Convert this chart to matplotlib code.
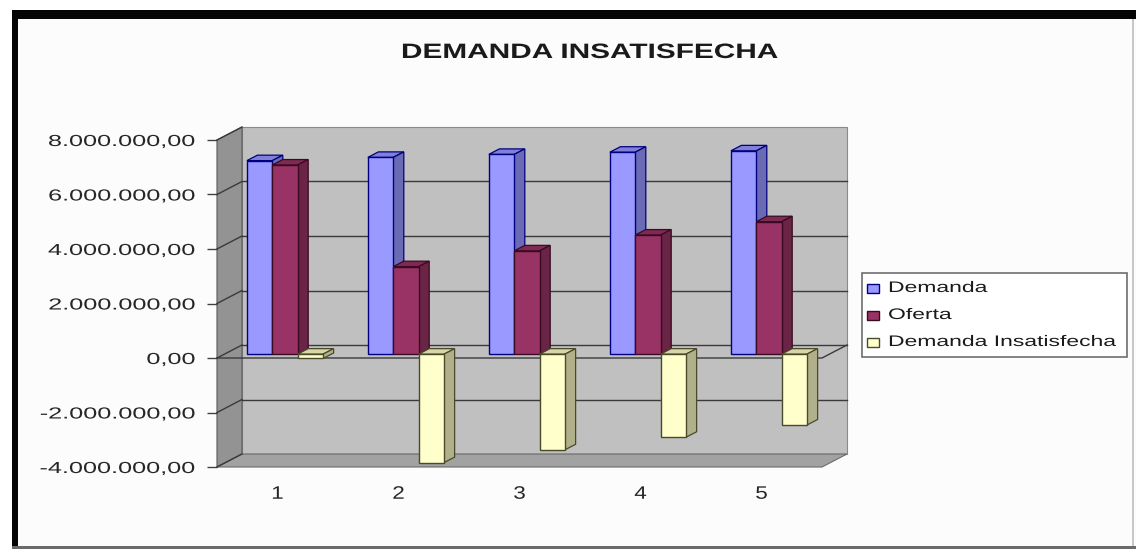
import matplotlib
matplotlib.use("Agg")
import matplotlib.pyplot as plt
from matplotlib.patches import Polygon, Rectangle
from matplotlib.lines import Line2D
from matplotlib.patheffects import AbstractPathEffect
from matplotlib.transforms import Affine2D

plt.rcParams["font.family"] = ["Liberation Sans", "DejaVu Sans"]

# ---- data -------------------------------------------------------------
categories = ["1", "2", "3", "4", "5"]
demanda = [7_100_000, 7_220_000, 7_330_000, 7_410_000, 7_460_000]
oferta = [6_940_000, 3_210_000, 3_790_000, 4_370_000, 4_860_000]
insatisfecha = [-160_000, -3_980_000, -3_510_000, -3_050_000, -2_600_000]
series_names = ["Demanda", "Oferta", "Demanda Insatisfecha"]
y_ticks = [-4_000_000, -2_000_000, 0, 2_000_000, 4_000_000, 6_000_000, 8_000_000]
y_tick_labels = ["-4.000.000,00", "-2.000.000,00", "0,00", "2.000.000,00",
                 "4.000.000,00", "6.000.000,00", "8.000.000,00"]
title = "DEMANDA INSATISFECHA"

# ---- styling ------------------------------------------------------------
face_colors = ["#9999FF", "#993366", "#FFFFCC"]
side_colors = ["#6A6AB5", "#6A2446", "#B0B08A"]
top_colors = ["#8080D8", "#7E2A52", "#D6D6A6"]
edge_colors = ["#000080", "#3A0A22", "#4A4A2A"]


class HStretch(AbstractPathEffect):
    """Widen glyph outlines horizontally around a chosen anchor."""

    def __init__(self, sx, anchor="left"):
        super().__init__()
        self.sx = sx
        self.anchor = anchor

    def draw_path(self, renderer, gc, tpath, affine, rgbFace=None):
        ext = tpath.get_extents()
        if self.anchor == "right":
            x0 = ext.x1
        elif self.anchor == "center":
            x0 = 0.5 * (ext.x0 + ext.x1)
        else:
            x0 = 0.0
        extra = Affine2D().translate(-x0, 0).scale(self.sx, 1).translate(x0, 0)
        renderer.draw_path(gc, tpath, extra + affine, rgbFace)


W, H, DPI = 1136, 552, 100
fig = plt.figure(figsize=(W / DPI, H / DPI), dpi=DPI)
fig.patch.set_facecolor("white")
px = Affine2D().scale(1 / W, -1 / H).translate(0, 1) + fig.transFigure

# outer frame (kept beneath the axes)
frame = [
    Rectangle((18, 19), W - 18, 527, fc="#FCFCFC", ec="none"),
    Rectangle((12, 10), W - 12, 9, fc="#050505", ec="none"),
    Rectangle((12, 10), 6, 539, fc="#050505", ec="none"),
    Rectangle((12, 546), W - 12, 3, fc="#6A6A6A", ec="none"),
    Rectangle((1132, 19), 2, 527, fc="#C8C8C8", ec="none"),
]
for p in frame:
    p.set_transform(px)
    p.set_zorder(-5)
    fig.patches.append(p)

# title
t = fig.text(590 / W, 1 - 52.5 / H, title, ha="center", va="center",
             fontsize=15, fontweight="bold", color="#1A1A1A")
t.set_path_effects([HStretch(1.43, "center")])

# ---- plotting area ----------------------------------------------------
PX_CAT = 121.0          # pixels per category
PX_M = 27.25            # pixels per million
X0_PX, Y0_PX = 217.0, 358.0
xmin, xmax = 0.5, 5.75
ymin, ymax = -4_000_000, 8_600_000
left = X0_PX + (xmin - 0.5) * PX_CAT
right = X0_PX + (xmax - 0.5) * PX_CAT
top = Y0_PX - ymax / 1e6 * PX_M
bottom = Y0_PX - ymin / 1e6 * PX_M
ax = fig.add_axes([left / W, 1 - bottom / H, (right - left) / W, (bottom - top) / H])
ax.set_zorder(1)
ax.set_xlim(xmin, xmax)
ax.set_ylim(ymin, ymax)
ax.patch.set_visible(False)
for s in ax.spines.values():
    s.set_visible(False)

# depth offset of the 3-D box, in data units
DX = 25 / PX_CAT
DY = 13 / PX_M * 1e6
xa, xb = 0.5, 5.5
ylo, yhi = y_ticks[0], y_ticks[-1]

# back wall, side wall, floor
ax.add_patch(Polygon([(xa + DX, ylo + DY), (xb + DX, ylo + DY), (xb + DX, yhi + DY),
                      (xa + DX, yhi + DY)], closed=True, fc="#C0C0C0", ec="#8A8A8A",
                     lw=0.8, zorder=1, clip_on=False))
ax.add_patch(Polygon([(xa, ylo), (xa, yhi), (xa + DX, yhi + DY), (xa + DX, ylo + DY)],
                     closed=True, fc="#939393", ec="#5A5A5A", lw=0.8, zorder=1.2,
                     clip_on=False))
ax.add_patch(Polygon([(xa, ylo), (xb, ylo), (xb + DX, ylo + DY), (xa + DX, ylo + DY)],
                     closed=True, fc="#A2A2A2", ec="#6A6A6A", lw=0.8, zorder=1.3,
                     clip_on=False))

# gridlines on the walls
for v in y_ticks[1:-1]:
    ax.add_line(Line2D([xa + DX, xb + DX], [v + DY, v + DY], color="#3A3A3A", lw=1.0,
                       zorder=2, clip_on=False))
for v in y_ticks:
    ax.add_line(Line2D([xa, xa + DX], [v, v + DY], color="#3A3A3A", lw=1.0,
                       zorder=2, clip_on=False))
# category axis line at zero
ax.add_line(Line2D([xa, xb, xb + DX], [0, 0, DY], color="#3A3A3A", lw=1.0,
                   zorder=3, clip_on=False))

# ---- 3-D style columns --------------------------------------------------
BAR_W = 0.21
D0, DD = 0.30, 0.42
ddx, ddy = DD * DX, DD * DY
base = D0 * DY
series = [demanda, oferta, insatisfecha]
for i in range(len(categories)):
    for j, vals in enumerate(series):
        v = vals[i]
        z = 10 + (i * 3 + j)
        xl = (i + 1) + (j - 1.5) * BAR_W + D0 * DX
        xr = xl + BAR_W
        cap = base + v if v >= 0 else base
        ax.add_patch(Polygon([(xl, cap), (xr, cap), (xr + ddx, cap + ddy), (xl + ddx, cap + ddy)],
                             closed=True, fc=top_colors[j], ec=edge_colors[j], lw=0.9,
                             zorder=z, clip_on=False))
        ax.add_patch(Polygon([(xr, base), (xr, base + v), (xr + ddx, base + v + ddy),
                              (xr + ddx, base + ddy)], closed=True, fc=side_colors[j],
                             ec=edge_colors[j], lw=0.9, zorder=z, clip_on=False))
        ax.bar(xl, v, width=BAR_W, bottom=base, align="edge", color=face_colors[j],
               edgecolor=edge_colors[j], linewidth=1.0, zorder=z + 0.5, clip_on=False)

# ---- axes ticks and labels ------------------------------------------------
ax.set_yticks(y_ticks, y_tick_labels)
ax.tick_params(axis="y", length=7.2, width=1.0, color="#404040", pad=8.6,
               labelsize=11.5, labelcolor="#262626")
for tk in ax.yaxis.get_major_ticks():
    tk.label1.set_path_effects([HStretch(1.58, "right")])

ax.set_xticks(range(1, len(categories) + 1), categories)
ax.tick_params(axis="x", length=0, pad=13.5, labelsize=13, labelcolor="#262626")
for tk in ax.xaxis.get_major_ticks():
    tk.label1.set_path_effects([HStretch(1.25, "center")])

# ---- legend box ---------------------------------------------------------
legend_parts = [Rectangle((862, 273), 265, 84, fc="white", ec="#6E6E6E", lw=1.2)]
for k, name in enumerate(series_names):
    yc = 288 + k * 27
    legend_parts.append(Rectangle((867, yc - 4.5), 12, 9, fc=face_colors[k],
                                  ec=edge_colors[k], lw=1.0))
    lt = fig.text(888 / W, 1 - yc / H, name, ha="left", va="center", fontsize=11,
                  color="#1A1A1A", zorder=5)
    lt.set_path_effects([HStretch(1.5, "left")])
for p in legend_parts:
    p.set_transform(px)
    p.set_zorder(4)
    fig.patches.append(p)

fig.savefig("out.png", dpi=DPI)
